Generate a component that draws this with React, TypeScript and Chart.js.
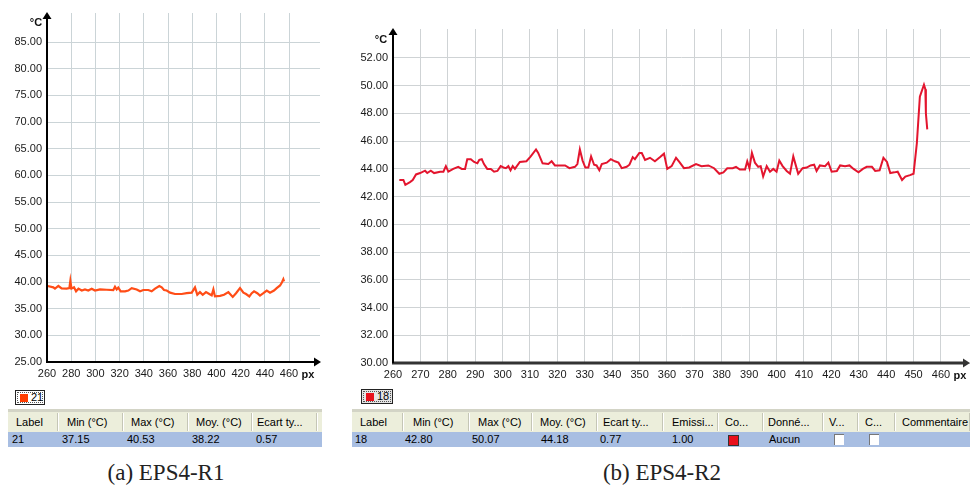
import React, { useEffect, useRef } from 'react';
import { Chart, registerables } from 'chart.js';

Chart.register(...registerables);

// ---- Data: chart (a) EPS4-R1 ----
const pxA = [260.5, 265.2, 266.6, 269.4, 272.1, 276.3, 278.5, 279.3, 280.2, 282.3, 284, 286, 288.7, 291.4, 294.1, 296.9, 299.7, 303.8, 309.3, 314.8, 316.2, 317.6, 318.9, 320.9, 324.5, 327.2, 330, 334.1, 336.9, 339.6, 343.7, 346.5, 349.3, 352.8, 354.8, 356.7, 358.9, 361.7, 365.8, 371.3, 375.4, 379.6, 382.3, 384.2, 386.4, 388.7, 391.4, 394.1, 396.1, 397.5, 398.8, 403, 406.3, 409.9, 413.5, 416.2, 419.5, 422.3, 424.5, 427.2, 429.2, 431.1, 433.8, 436, 438.8, 441.6, 444.3, 447.6, 449.8, 452.6, 454.2, 455.3, 455.9];
const tempA = [39.25, 39.0, 38.75, 39.25, 38.8, 38.75, 38.85, 40.2, 38.75, 39.0, 38.25, 38.75, 38.4, 38.6, 38.4, 38.75, 38.4, 38.6, 38.55, 38.5, 39.1, 38.6, 38.95, 38.25, 38.25, 38.4, 38.85, 38.6, 38.25, 38.5, 38.5, 38.25, 38.75, 39.25, 39.0, 38.5, 38.4, 38.0, 37.75, 37.75, 37.9, 38.0, 39.0, 37.6, 38.1, 37.6, 38.1, 37.75, 37.5, 38.6, 37.3, 37.4, 37.6, 38.1, 37.2, 37.9, 38.85, 38.0, 37.75, 37.3, 37.9, 38.25, 37.9, 37.45, 37.9, 38.4, 38.0, 38.4, 38.85, 39.35, 39.95, 40.5, 40.1];
const yTicksA = [25, 30, 35, 40, 45, 50, 55, 60, 65, 70, 75, 80, 85];
const xTicksA = [260, 280, 300, 320, 340, 360, 380, 400, 420, 440, 460];

// ---- Data: chart (b) EPS4-R2 ----
const pxB = [262.3, 263.8, 264.5, 266.2, 267.2, 268.4, 269.9, 271.7, 272.5, 273.8, 275, 277.2, 278.4, 279.3, 280.2, 282, 283.8, 285.1, 286.3, 287.1, 288.4, 289.6, 290.8, 291.5, 292.4, 293.2, 294.4, 295.7, 296.9, 298.1, 299.3, 300.3, 301.2, 302.1, 302.9, 303.7, 304.5, 306.3, 308.7, 310.2, 312.2, 313, 314.6, 316.7, 317.9, 319.1, 320.9, 322.8, 324.4, 326.4, 327.3, 328.2, 329.2, 330.2, 331.3, 332.3, 333.4, 334.3, 335.3, 336.2, 338, 339.5, 341, 342.3, 343.5, 345.3, 346.3, 347.5, 348.3, 349.9, 350.8, 352, 353.8, 355.6, 357.5, 358.9, 360.1, 361.7, 363.3, 364.5, 366.2, 368.1, 370.6, 372.6, 375.1, 377.2, 379.1, 380.6, 382, 384, 385.2, 386.6, 388.5, 389.3, 390.1, 391, 392.1, 393.3, 394.2, 395.1, 396.4, 397.6, 398.8, 400, 401, 402.2, 403.7, 404.9, 406.1, 407.1, 407.9, 409.5, 411, 412.4, 413.7, 414.6, 415.8, 417.7, 418.9, 420.1, 422, 423.2, 425, 426.6, 428.1, 429.9, 431.5, 432.9, 434.8, 436, 437.6, 439, 440.3, 441.5, 443, 444.2, 445.8, 447, 448.7, 450, 451.2, 452.3, 453.8, 454.3, 454.5, 455];
const tempB = [43.2, 43.2, 42.85, 43.05, 43.2, 43.6, 43.7, 43.87, 43.7, 43.87, 43.7, 43.8, 43.8, 44.2, 43.8, 44.0, 44.15, 44.0, 44.0, 44.7, 44.7, 44.5, 44.4, 44.65, 44.7, 44.35, 44.0, 44.0, 43.8, 43.85, 44.2, 44.1, 44.05, 44.2, 43.9, 44.2, 44.0, 44.5, 44.55, 44.88, 45.4, 45.15, 44.4, 44.35, 44.55, 44.25, 44.25, 44.25, 44.05, 44.15, 44.35, 45.4, 44.6, 44.1, 44.1, 44.9, 44.3, 44.25, 43.9, 44.35, 44.45, 44.7, 44.55, 44.45, 44.05, 44.15, 44.3, 44.85, 44.7, 45.15, 45.15, 44.65, 44.8, 44.55, 44.85, 45.1, 44.0, 44.2, 44.8, 44.5, 44.05, 44.1, 44.35, 44.2, 44.25, 44.05, 43.65, 43.75, 44.05, 44.05, 44.15, 43.95, 43.95, 44.55, 44.05, 45.15, 44.45, 44.15, 44.2, 43.45, 44.2, 43.8, 44.0, 43.8, 44.6, 44.2, 43.85, 43.65, 44.9, 44.2, 43.65, 44.05, 44.1, 44.25, 44.3, 43.85, 44.25, 44.2, 44.45, 43.8, 43.85, 44.25, 44.2, 44.25, 44.0, 43.75, 44.0, 44.15, 44.15, 43.85, 43.9, 44.8, 44.5, 43.7, 43.75, 43.8, 43.2, 43.45, 43.55, 43.65, 45.85, 49.2, 50.07, 49.75, 48.0, 46.85];
const yTicksB = [30, 32, 34, 36, 38, 40, 42, 44, 46, 48, 50, 52];
const xTicksB = [260, 270, 280, 290, 300, 310, 320, 330, 340, 350, 360, 370, 380, 390, 400, 410, 420, 430, 440, 450, 460];

// ---- Tables ----
const headersA = ['Label', 'Min (°C)', 'Max (°C)', 'Moy. (°C)', 'Ecart ty...'];
const rowA = ['21', '37.15', '40.53', '38.22', '0.57'];
const headersB = ['Label', 'Min (°C)', 'Max (°C)', 'Moy. (°C)', 'Ecart ty...', 'Emissi...', 'Co...', 'Donné...', 'V...', 'C...', 'Commentaire'];
const rowB = ['18', '42.80', '50.07', '44.18', '0.77', '1.00', '', 'Aucun', '', '', ''];

type AxisCfg = {
  axisColor: string;
  xAxisColor: string;
  xAxisWidth: number;
  xArrowTip: number;
  unitY: [number, number];
  unitX: [number, number];
};

function makeAxisPlugin(cfg: AxisCfg) {
  return {
    id: 'customAxes',
    afterDatasetsDraw(chart: any) {
      const { ctx, chartArea } = chart;
      const { left, top, bottom } = chartArea;
      ctx.save();
      // x axis
      ctx.strokeStyle = cfg.xAxisColor;
      ctx.fillStyle = cfg.xAxisColor;
      ctx.lineWidth = cfg.xAxisWidth;
      ctx.beginPath();
      ctx.moveTo(left - 1, bottom);
      ctx.lineTo(cfg.xArrowTip - 5, bottom);
      ctx.stroke();
      ctx.beginPath();
      ctx.moveTo(cfg.xArrowTip, bottom);
      ctx.lineTo(cfg.xArrowTip - 7, bottom - 4.5);
      ctx.lineTo(cfg.xArrowTip - 7, bottom + 4.5);
      ctx.closePath();
      ctx.fill();
      // y axis
      ctx.strokeStyle = cfg.axisColor;
      ctx.fillStyle = cfg.axisColor;
      ctx.lineWidth = 2;
      ctx.beginPath();
      ctx.moveTo(left, bottom);
      ctx.lineTo(left, top + 4);
      ctx.stroke();
      ctx.beginPath();
      ctx.moveTo(left, top - 1);
      ctx.lineTo(left - 4.5, top + 6);
      ctx.lineTo(left + 4.5, top + 6);
      ctx.closePath();
      ctx.fill();
      // unit labels
      ctx.fillStyle = '#111';
      ctx.font = 'bold 11px "Liberation Sans", Arial, sans-serif';
      ctx.textAlign = 'center';
      ctx.textBaseline = 'middle';
      ctx.fillText('°C', cfg.unitY[0], cfg.unitY[1]);
      ctx.fillText('px', cfg.unitX[0], cfg.unitX[1]);
      ctx.restore();
    },
  };
}

function buildChart(
  canvas: HTMLCanvasElement,
  xs: number[],
  ys: number[],
  color: string,
  lineWidth: number,
  xTicks: number[],
  yTicks: number[],
  xMax: number,
  yMax: number,
  yWidth: number,
  xHeight: number,
  padding: any,
  gridColor: string,
  axisCfg: AxisCfg
) {
  const data = xs.map((x, i) => ({ x, y: ys[i] }));
  const font = { family: '"Liberation Sans", Arial, sans-serif', size: 11 };
  return new Chart(canvas, {
    type: 'line',
    data: {
      datasets: [
        {
          data,
          borderColor: color,
          borderWidth: lineWidth,
          pointRadius: 0,
          tension: 0,
          fill: false,
        },
      ],
    },
    options: {
      responsive: false,
      animation: false,
      layout: { padding },
      plugins: { legend: { display: false }, tooltip: { enabled: false } },
      scales: {
        x: {
          type: 'linear',
          min: xTicks[0],
          max: xMax,
          afterBuildTicks: (s: any) => {
            s.ticks = xTicks.map((v) => ({ value: v }));
          },
          afterFit: (s: any) => {
            s.height = xHeight;
          },
          ticks: { font, color: '#1a1a1a', padding: 5, maxRotation: 0, autoSkip: false, callback: (v: any) => String(v) },
          grid: { color: gridColor, lineWidth: 1, drawTicks: false },
          border: { display: false },
        },
        y: {
          type: 'linear',
          min: yTicks[0],
          max: yMax,
          afterBuildTicks: (s: any) => {
            s.ticks = yTicks.map((v) => ({ value: v }));
          },
          afterFit: (s: any) => {
            s.width = yWidth;
          },
          ticks: { font, color: '#1a1a1a', padding: 5, autoSkip: false, callback: (v: any) => Number(v).toFixed(2) },
          grid: { color: gridColor, lineWidth: 1, drawTicks: false },
          border: { display: false },
        },
      },
    },
    plugins: [makeAxisPlugin(axisCfg)],
  } as any);
}

const cellFont = '11px "Liberation Sans", Tahoma, Arial, sans-serif';

function DataTable(props: {
  left: number;
  widths: number[];
  totalWidth: number;
  headers: string[];
  row: string[];
  headerPad: number[];
  rowPad: number[];
  colorCol?: number;
  checkCols?: number[];
}) {
  const { left, widths, totalWidth, headers, row, headerPad, rowPad, colorCol, checkCols } = props;
  let acc = 0;
  const lefts = widths.map((w) => {
    const l = acc;
    acc += w;
    return l;
  });
  return (
    <div style={{ position: 'absolute', left, top: 409, width: totalWidth, height: 38, font: cellFont, color: '#000' }}>
      <div style={{ position: 'absolute', left: 0, top: 0, width: totalWidth, height: 3, background: '#d3d4c6' }} />
      <div style={{ position: 'absolute', left: 0, top: 3, width: totalWidth, height: 20, background: '#eceedb' }} />
      <div style={{ position: 'absolute', left: 0, top: 23, width: totalWidth, height: 15, background: '#a8bee2' }} />
      {headers.map((h, i) => (
        <React.Fragment key={'h' + i}>
          <div
            style={{
              position: 'absolute',
              left: lefts[i] + headerPad[i],
              top: 3,
              height: 20,
              lineHeight: '20px',
              whiteSpace: 'nowrap',
            }}
          >
            {h}
          </div>
          <div
            style={{
              position: 'absolute',
              left: lefts[i] + widths[i] - 1,
              top: 4,
              width: 1,
              height: 18,
              background: '#c5c6b6',
            }}
          />
          <div
            style={{
              position: 'absolute',
              left: lefts[i] + widths[i],
              top: 4,
              width: 1,
              height: 18,
              background: '#ffffff',
            }}
          />
        </React.Fragment>
      ))}
      {row.map((v, i) => (
        <div
          key={'r' + i}
          style={{
            position: 'absolute',
            left: lefts[i] + rowPad[i],
            top: 23,
            height: 15,
            lineHeight: '15px',
            whiteSpace: 'nowrap',
          }}
        >
          {v}
        </div>
      ))}
      {colorCol !== undefined && (
        <div
          style={{
            position: 'absolute',
            left: lefts[colorCol] + 10,
            top: 26,
            width: 9,
            height: 9,
            background: '#e8101c',
            border: '1px solid #333',
          }}
        />
      )}
      {(checkCols || []).map((c) => (
        <div
          key={'c' + c}
          style={{
            position: 'absolute',
            left: lefts[c] + 11,
            top: 25,
            width: 9,
            height: 10,
            background: '#fff',
            borderLeft: '1px solid #777',
            borderTop: '1px solid #777',
          }}
        />
      ))}
    </div>
  );
}

function LegendBox(props: { left: number; top: number; width: number; color: string; label: string; bg: string }) {
  const { left, top, width, color, label, bg } = props;
  return (
    <div
      style={{
        position: 'absolute',
        left,
        top,
        width,
        height: 15,
        border: '1px solid #222',
        background: bg,
        boxSizing: 'border-box',
        font: cellFont,
        color: '#000',
      }}
    >
      <div style={{ position: 'absolute', left: 1, top: 1, right: 1, bottom: 1, border: '1px dotted #555' }} />
      <div style={{ position: 'absolute', left: 4, top: 3, width: 8, height: 8, background: color }} />
      <div style={{ position: 'absolute', left: 15, top: 0, lineHeight: '13px' }}>{label}</div>
    </div>
  );
}

const captionStyle: React.CSSProperties = {
  position: 'absolute',
  top: 459,
  textAlign: 'center',
  font: '23px "Liberation Serif", "DejaVu Serif", serif',
  color: '#222',
  lineHeight: '28px',
};

export default function App() {
  const refA = useRef<HTMLCanvasElement>(null);
  const refB = useRef<HTMLCanvasElement>(null);

  useEffect(() => {
    const a = buildChart(
      refA.current!,
      pxA,
      tempA,
      '#ff4d17',
      2.2,
      xTicksA,
      yTicksA,
      485.6,
      90.44,
      47,
      28,
      { left: 0, top: 13, right: 10, bottom: 0 },
      '#cbd4d7',
      { axisColor: '#000', xAxisColor: '#000', xAxisWidth: 2, xArrowTip: 321, unitY: [36, 23], unitX: [308, 375] }
    );
    const b = buildChart(
      refB.current!,
      pxB,
      tempB,
      '#e3152e',
      2,
      xTicksB,
      yTicksB,
      470.6,
      54.09,
      53,
      27,
      { left: 0, top: 29, right: 0, bottom: 0 },
      '#cfd3d5',
      { axisColor: '#000', xAxisColor: '#333', xAxisWidth: 3, xArrowTip: 630, unitY: [41, 40], unitX: [620, 376] }
    );
    return () => {
      a.destroy();
      b.destroy();
    };
  }, []);

  return (
    <div style={{ position: 'absolute', left: 0, top: 0, width: 970, height: 487, background: '#fff', overflow: 'hidden' }}>
      <canvas ref={refA} width={330} height={390} style={{ position: 'absolute', left: 0, top: 0, width: 330, height: 390 }} />
      <canvas ref={refB} width={630} height={390} style={{ position: 'absolute', left: 340, top: 0, width: 630, height: 390 }} />
      <LegendBox left={15} top={390} width={30} color="#ff3d00" label="21" bg="#fff" />
      <LegendBox left={361} top={389} width={32} color="#e8101c" label="18" bg="#e4e4e4" />
      <DataTable
        left={8}
        totalWidth={314}
        widths={[50, 65, 65, 64, 65]}
        headers={headersA}
        row={rowA}
        headerPad={[8, 9, 8, 8, 5]}
        rowPad={[4, 4, 4, 4, 4]}
      />
      <DataTable
        left={352}
        totalWidth={618}
        widths={[51, 66, 63, 65, 66, 55, 45, 60, 35, 37, 75]}
        headers={headersB}
        row={rowB}
        headerPad={[8, 10, 9, 8, 6, 9, 7, 5, 6, 7, 7]}
        rowPad={[3, 2, 3, 9, 3, 9, 0, 6, 0, 0, 0]}
        colorCol={6}
        checkCols={[8, 9]}
      />
      <div style={{ ...captionStyle, left: 0, width: 332 }}>(a) EPS4-R1</div>
      <div style={{ ...captionStyle, left: 540, width: 244 }}>(b) EPS4-R2</div>
    </div>
  );
}
